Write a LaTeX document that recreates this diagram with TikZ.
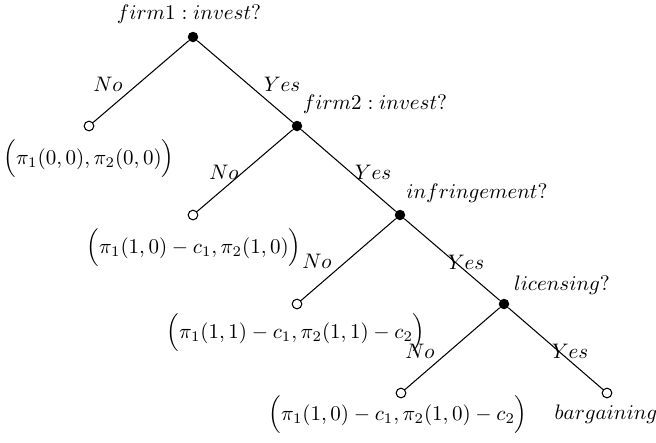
\documentclass[tikz,border=0pt]{standalone}
\begin{document}
\begin{tikzpicture}[x=0.476pt,y=-0.476pt,
  dec/.style={circle,fill=black,inner sep=0pt,minimum size=5pt},
  term/.style={circle,draw=black,fill=white,line width=0.5pt,inner sep=0pt,minimum size=4.6pt},
  lbl/.style={inner sep=0pt},
  edge/.style={draw=black,line width=0.5pt}]
\useasboundingbox (0,0) rectangle (656,442);
% decision nodes
\node[dec] (n1) at (193,37) {};
\node[dec] (n2) at (297,126) {};
\node[dec] (n3) at (400,215) {};
\node[dec] (n4) at (504,304) {};
% terminal nodes
\node[term] (t1) at (89,126) {};
\node[term] (t2) at (193,215) {};
\node[term] (t3) at (297,304) {};
\node[term] (t4) at (401,393) {};
\node[term] (t5) at (607,393) {};
% edges
\draw[edge] (n1) -- (t1);
\draw[edge] (n1) -- (n2);
\draw[edge] (n2) -- (t2);
\draw[edge] (n2) -- (n3);
\draw[edge] (n3) -- (t3);
\draw[edge] (n3) -- (n4);
\draw[edge] (n4) -- (t4);
\draw[edge] (n4) -- (t5);
% decision labels
\node[lbl] (l1) at (189,14) {$firm1: invest?$};
\node[lbl] (l2) at (375,104) {$firm2: invest?$};
\node[lbl] (l3) at (477,193) {$infringement?$};
\node[lbl] (l4) at (562,285) {$licensing?$};
% edge labels
\node[lbl] (e1) at (108,84) {$No$};
\node[lbl] (e2) at (282,84) {$Yes$};
\node[lbl] (e3) at (224,172) {$No$};
\node[lbl] (e4) at (373,172) {$Yes$};
\node[lbl] (e5) at (317,261) {$No$};
\node[lbl] (e6) at (466,262) {$Yes$};
\node[lbl] (e7) at (420,351) {$No$};
\node[lbl] (e8) at (570,351) {$Yes$};
% payoffs
\node[lbl] (p1) at (89,159) {$\Big(\pi_1(0,0),\pi_2(0,0)\Big)$};
\node[lbl] (p2) at (194,248) {$\Big(\pi_1(1,0)-c_1,\pi_2(1,0)\Big)$};
\node[lbl] (p3) at (296,333) {$\Big(\pi_1(1,1)-c_1,\pi_2(1,1)-c_2\Big)$};
\node[lbl] (p4) at (398,415) {$\Big(\pi_1(1,0)-c_1,\pi_2(1,0)-c_2\Big)$};
\node[lbl] (p5) at (606,414) {$bargaining$};
\end{tikzpicture}
\end{document}
